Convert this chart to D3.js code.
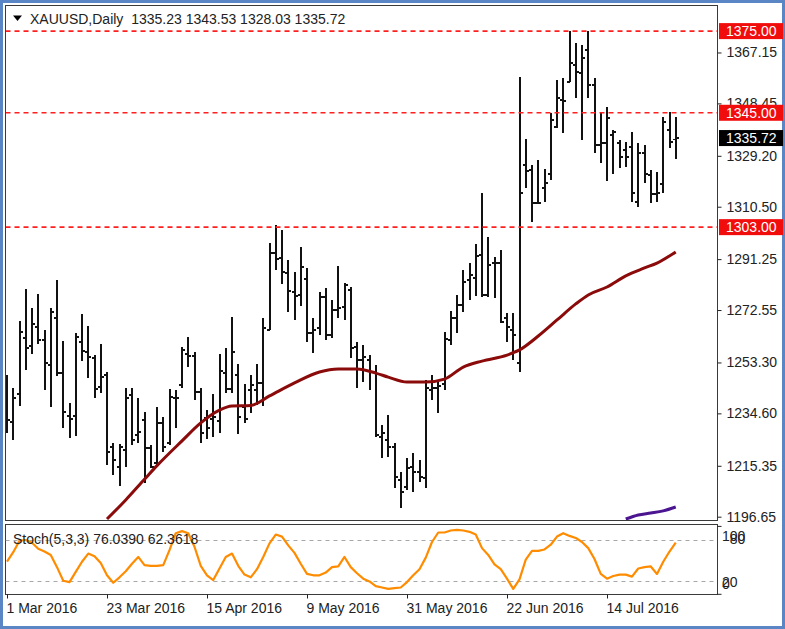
<!DOCTYPE html>
<html><head><meta charset="utf-8">
<script src="https://cdn.jsdelivr.net/npm/d3@7"></script>
<style>
html,body{margin:0;padding:0;background:#fff;}
svg{display:block;font-family:"Liberation Sans",Arial,sans-serif;}
</style>
</head><body>
<svg id="c" width="785" height="629"></svg>
<script>
// ---------------- DATA ----------------
const opens=[1241.4,1231.4,1241.7,1262.3,1259.3,1266.3,1261.6,1252.4,1269.6,1249.4,
1233.6,1233.6,1260.8,1257.1,1254.9,1244.3,1248.7,1222.3,1214.9,1221.2,
1241.4,1226.7,1232.2,1221.9,1216.4,1231.1,1223.7,1240.3,1245.0,1256.4,
1255.7,1242.5,1232.9,1232.5,1231.8,1249.4,1243.6,1248.7,1236.9,1243.2,
1243.2,1245.8,1265.2,1293.5,1291.7,1286.2,1279.2,1278.1,1283.9,1264.1,
1265.9,1277.3,1263.4,1272.6,1273.7,1279.9,1259.0,1254.2,1254.2,1249.8,
1225.9,1224.8,1222.3,1210.1,1207.6,1214.9,1213.1,1210.9,1243.2,1243.9,
1245.4,1261.6,1269.6,1274.4,1283.6,1284.3,1292.8,1278.1,1289.8,1289.8,
1269.6,1265.2,1253.1,1325.8,1324.0,1311.9,1317.4,1322.5,1339.8,1349.7,
1356.3,1362.5,1359.6,1368.0,1355.2,1333.2,1333.9,1336.8,1333.9,1331.3,
1332.4,1312.2,1330.2,1322.1,1315.2,1318.8,1338.7,1335.23];
const highs=[1248.7,1243.9,1268.5,1280.3,1273.3,1278.4,1265.2,1273.3,1283.6,1261.2,
1238.4,1264.1,1271.1,1266.7,1256.0,1260.1,1249.8,1223.7,1223.4,1243.9,
1243.9,1240.3,1235.1,1223.0,1236.9,1233.3,1243.6,1243.2,1259.0,1262.7,
1257.1,1243.9,1235.8,1241.7,1256.4,1258.6,1270.0,1252.7,1245.4,1248.7,
1252.7,1269.6,1297.2,1303.8,1301.9,1290.9,1286.5,1295.7,1288.0,1269.6,
1279.2,1280.6,1276.2,1288.7,1282.5,1281.0,1260.8,1259.7,1256.0,1252.4,
1230.3,1234.0,1223.7,1213.1,1218.2,1220.1,1217.5,1246.9,1248.7,1246.1,
1264.5,1272.2,1278.1,1287.3,1289.8,1296.8,1315.5,1299.4,1292.0,1294.6,
1271.5,1271.5,1358.1,1335.4,1325.8,1327.6,1324.3,1344.9,1357.0,1357.8,
1375.0,1370.6,1369.9,1375.0,1357.8,1344.9,1347.1,1338.7,1335.0,1334.3,
1337.9,1333.9,1333.2,1324.0,1323.2,1343.4,1345.3,1343.53];
const lows=[1227.4,1224.8,1237.3,1250.5,1256.4,1260.1,1243.2,1236.9,1248.3,1229.2,
1225.6,1226.3,1253.8,1247.6,1240.3,1242.1,1215.6,1212.0,1207.9,1214.9,
1223.0,1223.7,1209.0,1214.5,1215.6,1220.4,1223.0,1229.2,1243.9,1251.6,
1239.5,1223.7,1225.2,1225.9,1227.4,1242.1,1242.1,1227.0,1231.1,1234.7,
1237.7,1237.3,1265.2,1287.3,1282.1,1271.8,1268.9,1274.0,1260.8,1256.8,
1263.4,1261.6,1262.3,1269.6,1268.9,1254.9,1243.9,1246.1,1243.2,1225.9,
1218.2,1218.6,1207.2,1199.9,1206.5,1205.7,1209.4,1207.2,1239.5,1234.7,
1243.2,1259.7,1264.1,1271.8,1276.2,1277.7,1277.3,1277.3,1277.0,1267.8,
1260.8,1254.2,1249.8,1317.4,1304.9,1311.5,1312.2,1320.3,1339.4,1337.6,
1356.3,1350.4,1335.0,1350.4,1330.2,1326.5,1319.9,1322.5,1324.7,1325.1,
1312.2,1310.4,1319.2,1311.9,1312.2,1315.5,1332.1,1328.03];
const closes=[1232.2,1240.3,1264.5,1258.6,1267.4,1261.6,1253.1,1271.8,1249.4,1235.1,
1232.5,1262.7,1257.5,1255.3,1243.6,1247.9,1220.4,1217.5,1222.3,1240.3,
1224.8,1227.8,1221.9,1214.9,1231.1,1222.3,1240.6,1240.3,1257.9,1255.7,
1242.5,1227.4,1229.2,1233.3,1250.2,1243.6,1257.1,1233.3,1232.5,1245.0,
1245.8,1265.9,1293.5,1291.3,1286.5,1279.5,1277.7,1288.4,1264.1,1265.2,
1277.3,1263.4,1272.6,1273.3,1281.7,1258.6,1254.2,1255.3,1249.8,1226.7,
1227.4,1222.3,1211.2,1205.7,1214.5,1213.1,1211.2,1243.9,1243.9,1244.7,
1261.9,1269.6,1274.4,1282.8,1285.4,1292.4,1278.1,1289.1,1289.8,1268.1,
1266.3,1263.4,1315.5,1323.6,1311.9,1311.9,1319.2,1342.3,1350.4,1349.3,
1363.3,1360.0,1365.1,1355.2,1333.2,1333.9,1343.1,1337.9,1328.8,1328.8,
1315.5,1330.2,1322.5,1315.2,1315.5,1341.6,1334.3,1335.72];

// moving average (dark red), read at these bar indices
const maIdx=[16,19,22,24,28,31,34,36,39,42,46,50,53,56,59,61,64,67,70,73,76,80,82,85,88,91,93,96,99,102,104,107];
const maVal=[1195.8,1202.8,1210.4,1215.4,1224.5,1231.1,1235.8,1237.3,1237.5,1241.0,1245.8,1249.8,1250.9,1250.9,1249.4,1247.9,1246.1,1246.1,1247.2,1251.6,1253.8,1256.0,1257.9,1263.0,1268.9,1274.8,1278.1,1281.0,1285.1,1288.0,1289.8,1293.9];
// long moving average (purple)
const ma2Idx=[99,101,103,105,107];
const ma2Val=[1195.8,1197.3,1198.0,1198.8,1200.2];

// Stochastic %K per bar
const stoch=[48,62,79,80,76,67,63,58,40,20,
18,33,48,60,56,46,28,17,25,34,
45,55,43,42,42,43,65,90,93,90,
70,42,28,21,38,55,60,42,29,25,
37,55,75,88,85,72,61,45,30,28,
28,32,40,41,55,40,31,23,19,12,
10,8,9,10,18,28,37,54,77,91,
91,94,95,94,92,88,68,58,44,37,
23,8,22,51,64,64,66,73,85,90,
86,83,77,68,52,30,23,27,29,29,
26,38,40,41,30,48,63,76.04];

const priceTicks=[1196.65,1215.35,1234.60,1253.30,1272.55,1291.25,1310.50,1329.20,1348.45,1367.15];
const levels=[1375.00,1345.00,1303.00];
const lastPrice=1335.72;
const dateIdx=[0,16,32,48,64,80,96];
const dateLabels=["1 Mar 2016","23 Mar 2016","15 Apr 2016","9 May 2016","31 May 2016","22 Jun 2016","14 Jul 2016"];
const stochLevels=[80,20];
const titleText="XAUUSD,Daily  1335.23 1343.53 1328.03 1335.72";
const stochText="Stoch(5,3,3) 76.0390 62.3618";

// ---------------- LAYOUT ----------------
const svg=d3.select("#c");
const L=5.5,R=717.5,MT=5.5,MB=520.5,ST=524.5,SB=594.5;
const x=d3.scaleLinear().domain([0,107]).range([7,675.75]);
const y=d3.scaleLinear().domain([1196.65,1375]).range([516.7,31.1]);
const ys=d3.scaleLinear().domain([0,100]).range([594.3,526.4]);

svg.append("rect").attr("x",1.5).attr("y",1.5).attr("width",782).attr("height",626)
  .attr("fill","#fff").attr("stroke","#5b86c6").attr("stroke-width",3);

const defs=svg.append("defs");
defs.append("clipPath").attr("id","cm").append("rect").attr("x",L).attr("y",MT).attr("width",R-L).attr("height",MB-MT);
defs.append("clipPath").attr("id","cs").append("rect").attr("x",L).attr("y",ST).attr("width",R-L).attr("height",SB-ST);

const gm=svg.append("g").attr("clip-path","url(#cm)");

// OHLC bars
const idx=d3.range(opens.length);
const bars=gm.append("g").attr("stroke","#111").attr("shape-rendering","crispEdges");
bars.selectAll("line.hl").data(idx).join("line").attr("class","hl")
  .attr("x1",i=>x(i)).attr("x2",i=>x(i)).attr("y1",i=>y(highs[i])).attr("y2",i=>y(lows[i])).attr("stroke-width",2);
bars.selectAll("line.o").data(idx).join("line").attr("class","o")
  .attr("x1",i=>x(i)-3).attr("x2",i=>x(i)).attr("y1",i=>y(opens[i])).attr("y2",i=>y(opens[i])).attr("stroke-width",1.5);
bars.selectAll("line.c").data(idx).join("line").attr("class","c")
  .attr("x1",i=>x(i)).attr("x2",i=>x(i)+3).attr("y1",i=>y(closes[i])).attr("y2",i=>y(closes[i])).attr("stroke-width",1.5);

// level dashed lines (red), drawn over the bars
const lv=gm.append("g");
levels.forEach(v=>{
  lv.append("line").attr("x1",L).attr("x2",R).attr("y1",y(v)).attr("y2",y(v))
    .style("stroke","#ff1f1f").style("stroke-width","1.6px").style("stroke-dasharray","5,4");
});

// moving averages
const maLine=d3.line().x(d=>x(d[0])).y(d=>y(d[1])).curve(d3.curveMonotoneX);
gm.append("path").datum(maIdx.map((d,i)=>[d,maVal[i]])).attr("d",maLine)
  .attr("fill","none").attr("stroke","#8b0a0a").attr("stroke-width",3);
gm.append("path").datum(ma2Idx.map((d,i)=>[d,ma2Val[i]])).attr("d",maLine)
  .attr("fill","none").attr("stroke","#4b1490").attr("stroke-width",3);

// panel frames
svg.append("rect").attr("x",L).attr("y",MT).attr("width",R-L).attr("height",MB-MT).attr("fill","none").attr("stroke","#3a3a3a");
svg.append("rect").attr("x",L).attr("y",ST).attr("width",R-L).attr("height",SB-ST).attr("fill","none").attr("stroke","#3a3a3a");

// price axis
const ay=svg.append("g").attr("transform",`translate(${R},0)`)
  .call(d3.axisRight(y).tickValues(priceTicks).tickFormat(d3.format(".2f")).tickSize(4).tickPadding(5));
ay.select(".domain").remove();
ay.selectAll("line").attr("stroke","#222");
ay.selectAll("text").attr("font-size",14).attr("fill","#222").attr("font-family","Liberation Sans, Arial, sans-serif");

// level labels (red) and last price (black)
const lab=svg.append("g");
levels.forEach(v=>{
  const cy=y(v);
  lab.append("rect").attr("x",719).attr("y",cy-8).attr("width",64).attr("height",16).attr("fill","#f20d0d");
  lab.append("text").attr("x",726).attr("y",cy).attr("dy","0.36em").attr("font-size",14).attr("fill","#fff").text(v.toFixed(2));
});
{
  const cy=y(lastPrice);
  lab.append("rect").attr("x",719).attr("y",cy-8).attr("width",64).attr("height",16).attr("fill","#000");
  lab.append("text").attr("x",726).attr("y",cy).attr("dy","0.36em").attr("font-size",14).attr("fill","#fff").text(lastPrice.toFixed(2));
}

// title
svg.append("path").attr("d","M13,15.5 L22,15.5 L17.5,21 Z").attr("fill","#000");
svg.append("text").attr("x",30).attr("y",24).attr("font-size",14).attr("fill","#222")
  .style("white-space","pre").text(titleText);

// stochastic panel
const gs=svg.append("g").attr("clip-path","url(#cs)");
gs.selectAll("line.sl").data(stochLevels).join("line").attr("class","sl")
  .attr("x1",L).attr("x2",R).attr("y1",d=>Math.round(ys(d))+0.5).attr("y2",d=>Math.round(ys(d))+0.5)
  .attr("stroke","#a8a8a8").attr("stroke-dasharray","4,4");
gs.append("path").datum(idx).attr("d",d3.line().x(i=>x(i)).y(i=>ys(stoch[i])))
  .attr("fill","none").attr("stroke","#ff8c00").attr("stroke-width",2.2).attr("stroke-linejoin","round");
svg.append("text").attr("x",13).attr("y",539).attr("dy","0.36em").attr("font-size",14).attr("fill","#222").text(stochText);

// stochastic right labels
const sa=svg.append("g");
[[526.4],[594.3]].forEach(d=>sa.append("line").attr("x1",R).attr("x2",R+4).attr("y1",d[0]).attr("y2",d[0]).attr("stroke","#222"));
[["100",722,536],["80",729.8,539],["20",722,582],["0",722,584]].forEach(d=>{
  sa.append("text").attr("x",d[1]).attr("y",d[2]).attr("dy","0.36em").attr("font-size",14).attr("fill","#222").text(d[0]);
});

// date axis
const ax=svg.append("g").attr("transform",`translate(0,${SB})`)
  .call(d3.axisBottom(x).tickValues(dateIdx).tickFormat((d,i)=>dateLabels[i]).tickSize(4).tickPadding(5));
ax.select(".domain").remove();
ax.selectAll("line").attr("stroke","#222");
ax.selectAll("text").attr("text-anchor","start").attr("dx",-1).attr("font-size",14).attr("fill","#222")
  .attr("font-family","Liberation Sans, Arial, sans-serif");
</script>
</body></html>
